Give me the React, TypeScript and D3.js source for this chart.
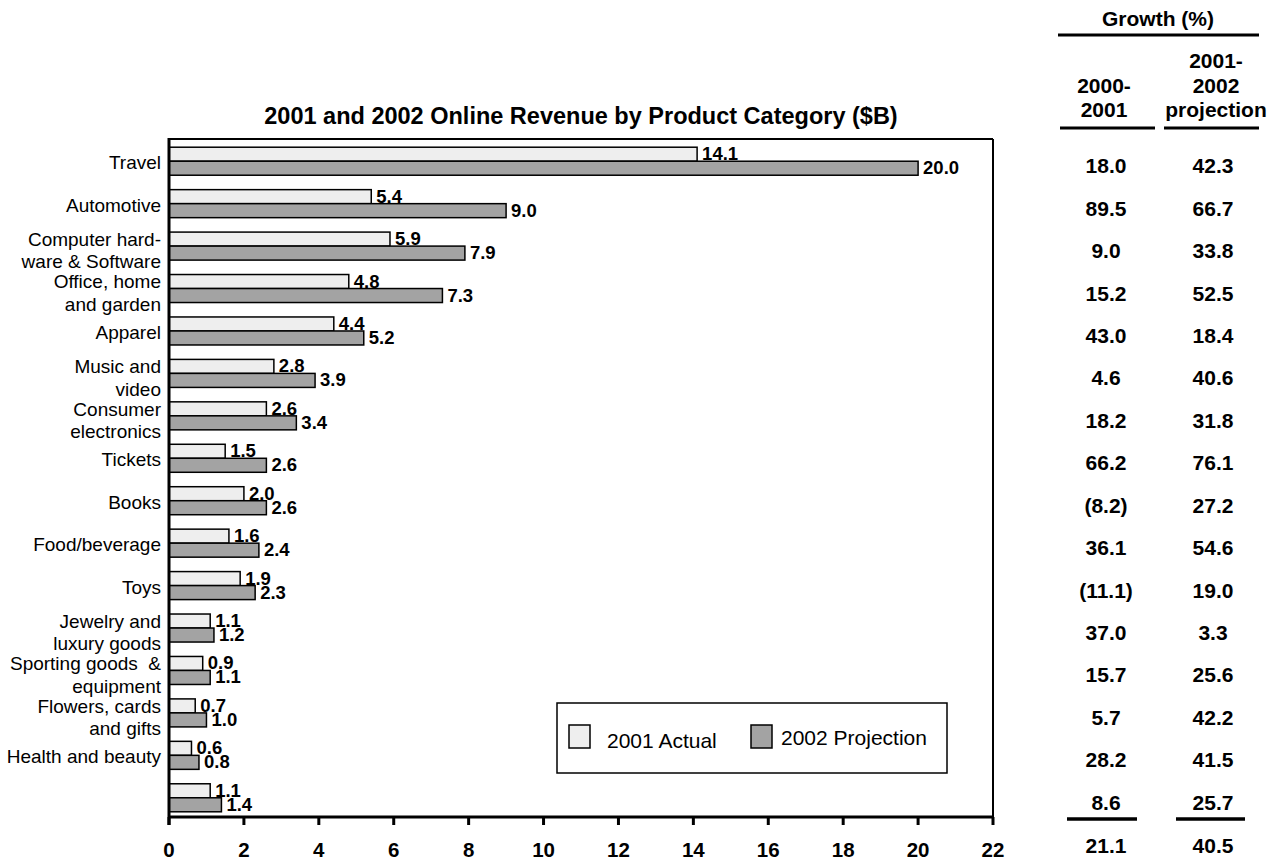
import * as d3 from 'd3';
import { useEffect, useRef } from 'react';

// chart data
const categories = [
    'Travel',
    'Automotive',
    'Computer hard-\nware & Software',
    'Office, home\nand garden',
    'Apparel',
    'Music and\nvideo',
    'Consumer\nelectronics',
    'Tickets',
    'Books',
    'Food/beverage',
    'Toys',
    'Jewelry and\nluxury goods',
    'Sporting goods  &\nequipment',
    'Flowers, cards\nand gifts',
    'Health and beauty',
    '',
];
const actual2001 = [14.1, 5.4, 5.9, 4.8, 4.4, 2.8, 2.6, 1.5, 2.0, 1.6, 1.9, 1.1, 0.9, 0.7, 0.6, 1.1];
const projection2002 = [20.0, 9.0, 7.9, 7.3, 5.2, 3.9, 3.4, 2.6, 2.6, 2.4, 2.3, 1.2, 1.1, 1.0, 0.8, 1.4];
const growth2000to2001 = [18.0, 89.5, 9.0, 15.2, 43.0, 4.6, 18.2, 66.2, -8.2, 36.1, -11.1, 37.0, 15.7, 5.7, 28.2, 8.6];
const growth2001to2002 = [42.3, 66.7, 33.8, 52.5, 18.4, 40.6, 31.8, 76.1, 27.2, 54.6, 19.0, 3.3, 25.6, 42.2, 41.5, 25.7];
const totalGrowth = [21.1, 40.5];
const xTicks = [0, 2, 4, 6, 8, 10, 12, 14, 16, 18, 20, 22];
const seriesNames = ['2001 Actual', '2002 Projection'];
const title = '2001 and 2002 Online Revenue by Product Category ($B)';
const growthTitle = 'Growth (%)';
const growthColumns = ['2000-\n2001', '2001-\n2002\nprojection'];

export default function App() {
    const chartRef = useRef(null);

    useEffect(() => {
        const width = 1278;
        const height = 863;
        const plot = { left: 169, right: 993, top: 139, bottom: 817 };
        const colors = ['#eeeeee', '#a3a3a3'];
        const font = 'Liberation Sans, Arial, Helvetica, sans-serif';

        const root = d3.select(chartRef.current);
        root.selectAll('*').remove();

        const svg = root
            .append('svg')
            .attr('width', width)
            .attr('height', height)
            .style('position', 'absolute')
            .style('left', 0)
            .style('top', 0)
            .style('background', '#fff')
            .style('font-family', font);

        const text = (x, y, s, size, weight = 'normal', anchor = 'middle') =>
            svg
                .append('text')
                .attr('x', x)
                .attr('y', y)
                .attr('text-anchor', anchor)
                .style('font-size', `${size}px`)
                .style('font-weight', weight)
                .style('white-space', 'pre')
                .attr('fill', '#000')
                .text(s);

        const xScale = d3.scaleLinear().domain([0, 22]).range([plot.left, plot.right]);

        const yScale = d3
            .scaleBand()
            .domain(categories.map((_, i) => String(i)))
            .range([plot.top + 1, plot.bottom + 2])
            .paddingInner(0.34)
            .paddingOuter(0.17);

        const ySeries = d3
            .scaleBand()
            .domain(['a', 'p'])
            .range([0, yScale.bandwidth()]);

        const series = [actual2001, projection2002];
        const keys = ['a', 'p'];

        // frame (top / right thin)
        svg.append('line')
            .attr('x1', plot.left).attr('x2', plot.right)
            .attr('y1', plot.top).attr('y2', plot.top)
            .attr('stroke', '#000').attr('stroke-width', 2);
        svg.append('line')
            .attr('x1', plot.right).attr('x2', plot.right)
            .attr('y1', plot.top).attr('y2', plot.bottom)
            .attr('stroke', '#000').attr('stroke-width', 2);

        // bars
        series.forEach((vals, s) => {
            svg.append('g')
                .selectAll('rect')
                .data(vals)
                .join('rect')
                .attr('x', xScale(0))
                .attr('y', (_, i) => yScale(String(i)) + ySeries(keys[s]))
                .attr('width', (d) => xScale(d) - xScale(0))
                .attr('height', ySeries.bandwidth())
                .attr('fill', colors[s])
                .attr('stroke', '#000')
                .attr('stroke-width', 1.5);

            vals.forEach((d, i) => {
                const yb = yScale(String(i)) + ySeries(keys[s]) + ySeries.bandwidth();
                text(xScale(d) + 5, yb - 1, d.toFixed(1), 18.5, 'bold', 'start');
            });
        });

        // category labels
        categories.forEach((c, i) => {
            const lines = c.split('\n');
            const cy = yScale(String(i)) + yScale.bandwidth() / 2;
            const lh = 22.5;
            const base = lines.length === 1 ? cy + 8 : cy + 11 - (lh * (lines.length - 1)) / 2;
            lines.forEach((ln, k) => text(161, base + k * lh, ln, 19, 'normal', 'end'));
        });

        // left axis line
        svg.append('line')
            .attr('x1', plot.left).attr('x2', plot.left)
            .attr('y1', plot.top - 1).attr('y2', plot.bottom + 8)
            .attr('stroke', '#000').attr('stroke-width', 3);

        // bottom axis
        svg.append('line')
            .attr('x1', plot.left).attr('x2', plot.right + 1)
            .attr('y1', plot.bottom).attr('y2', plot.bottom)
            .attr('stroke', '#000').attr('stroke-width', 3);
        xTicks.forEach((t) => {
            svg.append('line')
                .attr('x1', xScale(t)).attr('x2', xScale(t))
                .attr('y1', plot.bottom).attr('y2', plot.bottom + 8)
                .attr('stroke', '#000').attr('stroke-width', 3);
            text(xScale(t), 857, String(t), 20.5, 'bold');
        });

        // title
        text(581, 124, title, 23.5, 'bold');

        // legend
        svg.append('rect')
            .attr('x', 557).attr('y', 703).attr('width', 390).attr('height', 70)
            .attr('fill', '#fff').attr('stroke', '#000').attr('stroke-width', 1.5);
        const legendX = [569, 751];
        const legendTextX = [607, 781];
        seriesNames.forEach((n, s) => {
            svg.append('rect')
                .attr('x', legendX[s]).attr('y', 725).attr('width', 21).attr('height', 23)
                .attr('fill', colors[s]).attr('stroke', '#000').attr('stroke-width', 1.5);
            text(legendTextX[s], s === 0 ? 748 : 745, n, 21, 'normal', 'start');
        });

        // growth table
        const col = [1106, 1213];
        const headCol = [1104, 1216];
        text(1158, 26, growthTitle, 21, 'bold');
        svg.append('line')
            .attr('x1', 1058).attr('x2', 1259).attr('y1', 35).attr('y2', 35)
            .attr('stroke', '#000').attr('stroke-width', 3);
        const headLines = [
            [1060, 1155],
            [1164, 1259],
        ];
        growthColumns.forEach((h, c) => {
            const lines = h.split('\n');
            lines.forEach((ln, k) => text(headCol[c], 117 - (lines.length - 1 - k) * 24.5, ln, 21, 'bold'));
            svg.append('line')
                .attr('x1', headLines[c][0]).attr('x2', headLines[c][1])
                .attr('y1', 128).attr('y2', 128)
                .attr('stroke', '#000').attr('stroke-width', 3);
        });

        const fmt = (v) => (v < 0 ? `(${Math.abs(v).toFixed(1)})` : v.toFixed(1));
        [growth2000to2001, growth2001to2002].forEach((vals, c) => {
            vals.forEach((v, i) => {
                const cy = yScale(String(i)) + yScale.bandwidth() / 2;
                text(col[c], cy + 12, fmt(v), 21, 'bold');
            });
        });

        const sumLines = [
            [1067, 1137],
            [1176, 1245],
        ];
        totalGrowth.forEach((v, c) => {
            svg.append('line')
                .attr('x1', sumLines[c][0]).attr('x2', sumLines[c][1])
                .attr('y1', 819).attr('y2', 819)
                .attr('stroke', '#000').attr('stroke-width', 3.5);
            text(col[c], 853, fmt(v), 21, 'bold');
        });

        return () => {
            d3.select(chartRef.current).selectAll('*').remove();
        };
    }, []);

    return <div ref={chartRef}></div>;
}
